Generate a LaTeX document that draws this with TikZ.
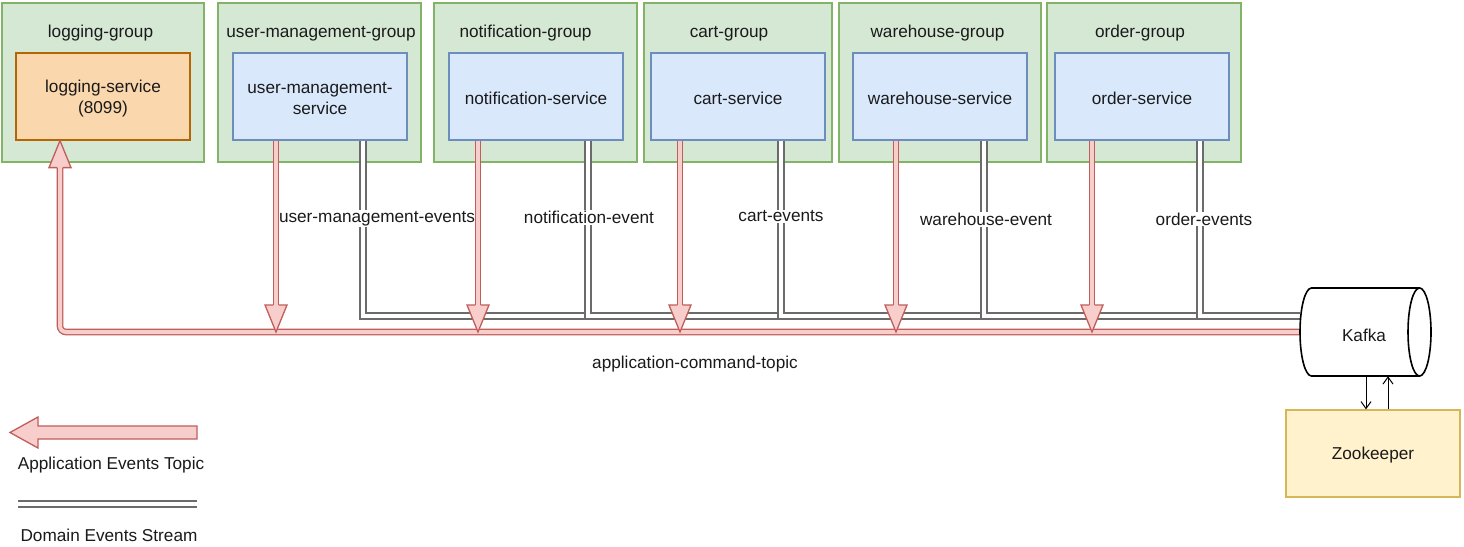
\documentclass[tikz,border=0pt]{standalone}
\usepackage{fontspec}
\setmainfont{Liberation Sans}
\usetikzlibrary{arrows.meta,calc}
\definecolor{grpF}{HTML}{D5E8D4}
\definecolor{grpD}{HTML}{82B366}
\definecolor{svcF}{HTML}{DAE8FC}
\definecolor{svcD}{HTML}{6C8EBF}
\definecolor{logF}{HTML}{FAD7AC}
\definecolor{logD}{HTML}{B46504}
\definecolor{zkF}{HTML}{FFF2CC}
\definecolor{zkD}{HTML}{D6B656}
\definecolor{redD}{HTML}{C05E5A}
\definecolor{redF}{HTML}{F8CECC}
\definecolor{txt}{HTML}{1A1A1A}
\begin{document}
\begin{tikzpicture}[x=1pt,y=-1pt,
  font=\fontsize{17.2}{20.5}\selectfont, text=txt,
  grp/.style={draw=grpD, fill=grpF, line width=1.2pt, inner sep=0pt, minimum height=159pt},
  svc/.style={draw=svcD, fill=svcF, line width=1.2pt, inner sep=0pt, minimum width=174pt, minimum height=87pt},
  logsvc/.style={svc, draw=logD, fill=logF},
  inlbl/.style={label={[inner sep=0pt, align=center, yshift=-2pt]center:#1}},
  ttl/.style={inner sep=0pt},
  evlbl/.style={fill=white, inner sep=1pt},
  redpipe/.style={draw=redD, line width=1.3pt, double=redF, double distance=4pt},
  dstream/.style={draw=black!58, line width=1.1pt, double=white, double distance=4.9pt},
  zkarrow/.style={draw=black, line width=1pt, -{Straight Barb[length=7pt,width=10pt]}},
  dnhead/.pic={\filldraw[draw=redD, fill=redF, line width=1.3pt, line join=miter] (-2.65,-27) -- (-11,-27) -- (0,0) -- (11,-27) -- (2.65,-27);},
  uphead/.pic={\filldraw[draw=redD, fill=redF, line width=1.3pt, line join=miter] (-2.65,27) -- (-11,27) -- (0,0) -- (11,27) -- (2.65,27);}
]
\useasboundingbox (0,0) rectangle (1464,546);
\fill[white] (0,0) rectangle (1464,546);

% groups
\node[grp, minimum width=202pt] (g1) at (103,82.5) {};
\node[grp, minimum width=203pt] (g2) at (319.5,82.5) {};
\node[grp, minimum width=203pt] (g3) at (535.5,82.5) {};
\node[grp, minimum width=188pt] (g4) at (738,82.5) {};
\node[grp, minimum width=202pt] (g5) at (940,82.5) {};
\node[grp, minimum width=194pt] (g6) at (1144,82.5) {};

\node[ttl] (t1) at (100.5,33.5) {logging-group};
\node[ttl] (t2) at (321,33.5) {user-management-group};
\node[ttl] (t3) at (525.5,33.5) {notification-group};
\node[ttl] (t4) at (729,33.5) {cart-group};
\node[ttl] (t5) at (937.5,33.5) {warehouse-group};
\node[ttl] (t6) at (1140,33.5) {order-group};

% services
\node[logsvc, inlbl={logging-service\\(8099)}] (s1) at (103,96.5) {};
\node[svc, inlbl={user-management-\\service}] (s2) at (320,96.5) {};
\node[svc, inlbl={notification-service}] (s3) at (536,96.5) {};
\node[svc, inlbl={cart-service}] (s4) at (738,96.5) {};
\node[svc, inlbl={warehouse-service}] (s5) at (940,96.5) {};
\node[svc, inlbl={order-service}] (s6) at (1142,96.5) {};

% kafka and zookeeper
\node[inner sep=0pt, minimum width=131pt, minimum height=88pt] (kafka) at (1365.5,332) {};
\node[draw=zkD, fill=zkF, line width=1.2pt, inner sep=0pt, minimum width=174pt, minimum height=87pt, inlbl={Zookeeper}] (zk) at (1373,453.5) {};

\coordinate (kin) at ($(kafka.west)+(0,-16)$);

% domain event streams
\coordinate (d2) at (363,0);
\coordinate (d3) at (588,0);
\coordinate (d4) at (781,0);
\coordinate (d5) at (984,0);
\coordinate (d6) at (1200,0);
\draw[dstream] (s2.south -| d2) |- (kin);
\draw[dstream] (s3.south -| d3) |- (kin);
\draw[dstream] (s4.south -| d4) |- (kin);
\draw[dstream] (s5.south -| d5) |- (kin);
\draw[dstream] (s6.south -| d6) |- (kin);

\node[evlbl] (l2) at (377,218.5) {user-management-events};
\node[evlbl] (l3) at (589,217.5) {notification-event};
\node[evlbl] (l4) at (781,216.5) {cart-events};
\node[evlbl] (l5) at (986,219.5) {warehouse-event};
\node[evlbl] (l6) at (1204,219) {order-events};

% application command topic
\coordinate (lx) at (60,0);
\coordinate (ltip) at (s1.south -| lx);
\coordinate (lcorner) at (60,332);
\draw[redpipe, rounded corners=6pt] (kafka.west) -- (lcorner) -- ($(ltip)+(0,27)$);
\pic at (ltip) {uphead};

\coordinate (a2) at (276,332);
\coordinate (a3) at (478,332);
\coordinate (a4) at (680,332);
\coordinate (a5) at (896,332);
\coordinate (a6) at (1092,332);
\foreach \s/\a in {s2/a2, s3/a3, s4/a4, s5/a5, s6/a6} {
  \draw[redpipe] (\s.south -| \a) -- ($(\a)+(0,-27)$);
  \pic at (\a) {dnhead};
}

\node[inner sep=0pt] (topic) at (695,364) {application-command-topic};

% kafka cylinder
\filldraw[fill=white, draw=black, line width=1.6pt]
  (1311.5,288) -- (1419.5,288) -- (1419.5,376) -- (1311.5,376)
  arc[start angle=270, end angle=90, x radius=11.5pt, y radius=44pt] -- cycle;
\draw[fill=white, line width=1.6pt] (1419.5,332) ellipse [x radius=11.5pt, y radius=44pt];
\node[inner sep=0pt] (kafkatxt) at (1364,335) {Kafka};

\coordinate (z1) at (1366,0);
\coordinate (z2) at (1388,0);
\draw[zkarrow] (kafka.south -| z1) -- (zk.north -| z1);
\draw[zkarrow] (zk.north -| z2) -- (kafka.south -| z2);

% legend
\filldraw[fill=redF, draw=redD, line width=1.3pt, line join=miter]
  (197,426) -- (38,426) -- (38,417) -- (10,432.5) -- (38,448) -- (38,439) -- (197,439) -- cycle;
\node[inner sep=0pt] (lg1) at (111,465) {Application Events Topic};
\coordinate (ls1) at (18,504);
\coordinate (ls2) at (197,504);
\draw[dstream] (ls1) -- (ls2);
\node[inner sep=0pt] (lg2) at (109,535) {Domain Events Stream};
\end{tikzpicture}
\end{document}
